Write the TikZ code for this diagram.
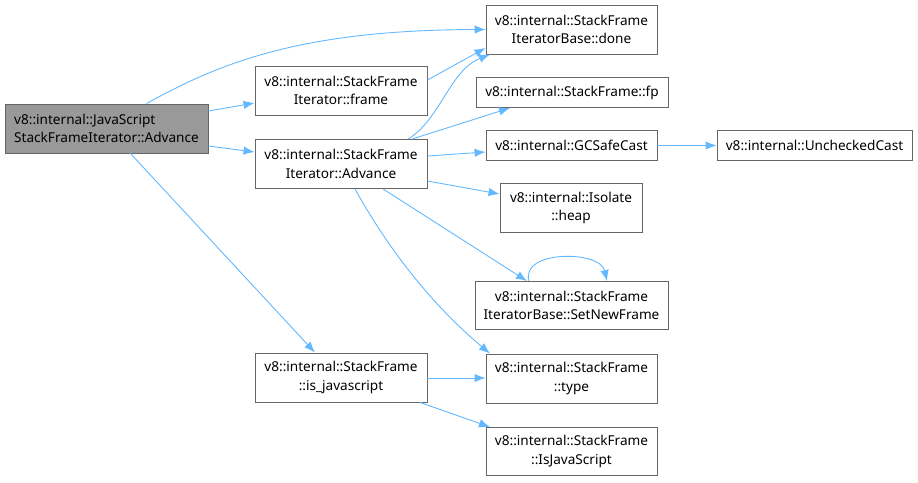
\documentclass[tikz,border=0pt]{standalone}
\usepackage{fontspec}
\setmainfont{Noto Sans}
\usetikzlibrary{arrows.meta}
\definecolor{edgec}{HTML}{63B8FF}
\definecolor{boxb}{HTML}{666666}
\definecolor{hl}{HTML}{999999}
\begin{document}
\begin{tikzpicture}[x=1pt,y=-1pt,
  box/.style={draw=boxb,line width=0.9pt,fill=white,inner sep=0pt,align=center,font=\fontsize{13.6}{18.4}\selectfont},
  edge/.style={draw=edgec,line width=0.9pt,-{Latex[length=11pt,width=8.5pt]}}]
\useasboundingbox (0,0) rectangle (918,482);
\node[box,fill=hl,align=left,minimum width=203pt,minimum height=49pt] (A) at (106.5,128.5) {v8::internal::JavaScript\\StackFrameIterator::Advance};
\node[box,minimum width=172pt,minimum height=49pt] (B) at (341,90.5) {v8::internal::StackFrame\\Iterator::frame};
\node[box,minimum width=172pt,minimum height=49pt] (C) at (341,164) {v8::internal::StackFrame\\Iterator::Advance};
\node[box,minimum width=171pt,minimum height=49pt] (D) at (571.5,29.5) {v8::internal::StackFrame\\IteratorBase::done};
\node[box,minimum width=192pt,minimum height=30pt] (E) at (572,92.5) {v8::internal::StackFrame::fp};
\node[box,minimum width=171pt,minimum height=30pt] (F) at (571.5,145.5) {v8::internal::GCSafeCast};
\node[box,minimum width=195pt,minimum height=30pt] (G) at (814.5,145.5) {v8::internal::UncheckedCast};
\node[box,minimum width=142pt,minimum height=49pt] (H) at (571,208) {v8::internal::Isolate\\::heap};
\node[box,minimum width=193pt,minimum height=48pt] (I) at (571.5,305.5) {v8::internal::StackFrame\\IteratorBase::SetNewFrame};
\node[box,minimum width=171pt,minimum height=49pt] (J) at (571.5,378.5) {v8::internal::StackFrame\\::type};
\node[box,minimum width=171pt,minimum height=48pt] (K) at (571.5,451.5) {v8::internal::StackFrame\\::IsJavaScript};
\node[box,minimum width=172pt,minimum height=49pt] (L) at (341,377.5) {v8::internal::StackFrame\\::is\_javascript};
\draw[edge] (A.north) ++(40,0) coordinate (a1) (a1) .. controls (220,63) and (300,30) .. (D.west);
\draw[edge] (A.east |- 0,111) -- (B.west |- 0,103);
\draw[edge] (A.east |- 0,146) -- (C.west |- 0,152);
\draw[edge] (130,153) -- (L.north -| 315,0);
\draw[edge] (B.east |- 0,80) -- (D.west |- 0,48);
\draw[edge] (C.north -| 408,0) .. controls (440,120) and (450,70) .. (D.south west -| 490,0);
\draw[edge] (C.north -| 412,0) -- (E.south -| 510,0);
\draw[edge] (C.east |- 0,156) -- (F.west |- 0,152);
\draw[edge] (C.east |- 0,181) -- (H.west |- 0,194);
\draw[edge] (C.south -| 383,0) -- (I.north -| 527,0);
\draw[edge] (C.south -| 355,0) .. controls (400,270) and (450,320) .. (J.north -| 490,0);
\draw[edge] (F) -- (G);
\draw[edge] (I.north -| 529,0) .. controls (520,250) and (600,250) .. (I.north -| 607,0);
\draw[edge] (L.east |- 0,378) -- (J.west |- 0,378);
\draw[edge] (L.south -| 420,0) -- (K.north west -| 490,0);
\end{tikzpicture}
\end{document}
